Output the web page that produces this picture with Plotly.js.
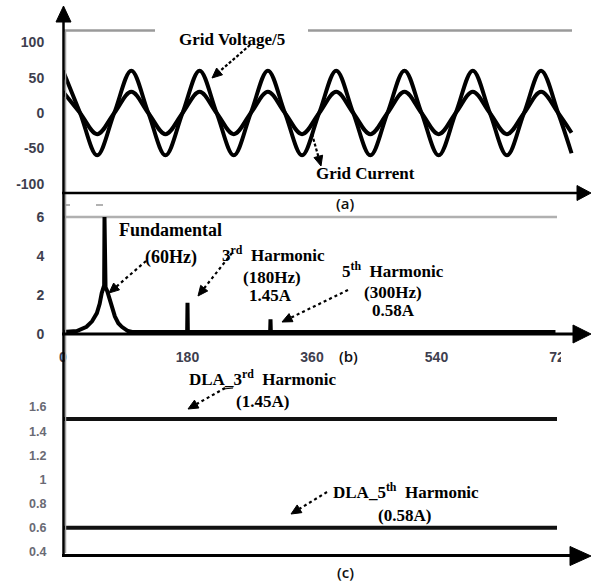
<!DOCTYPE html>
<html>
<head>
<meta charset="utf-8">
<script src="https://cdn.plot.ly/plotly-3.0.1.min.js"></script>
<style>html,body{margin:0;padding:0;background:#fff;}#chart{width:591px;height:585px;}</style>
</head>
<body>
<div id="chart"></div>
<script>
// ---- Panel (a): grid voltage/5 and grid current (time in ms, points at quarter periods) ----
const gridTime = [0, 4.17, 8.33, 12.5, 16.67, 20.83, 25, 29.17, 33.33, 37.5, 41.67, 45.83, 50, 54.17, 58.33, 62.5,
  66.67, 70.83, 75, 79.17, 83.33, 87.5, 91.67, 95.83, 100, 104.17, 108.33, 112.5, 116.67, 120.83, 124.1];
const gridVoltage = [60, 0, -60, 0, 60, 0, -60, 0, 60, 0, -60, 0, 60, 0, -60, 0,
  60, 0, -60, 0, 60, 0, -60, 0, 60, 0, -60, 0, 60, 0, -57];
const gridCurrent = [30, 0, -30, 0, 30, 0, -30, 0, 30, 0, -30, 0, 30, 0, -30, 0,
  30, 0, -30, 0, 30, 0, -30, 0, 30, 0, -30, 0, 30, 0, -28];
const yTicksA = [-100, -50, 0, 50, 100];
const yTickTextA = ['-100', '-50', '0', '50', '100'];

// ---- Panel (b): current spectrum (Hz, A) ----
const specFreq = [0, 20, 34, 42, 49, 53, 56, 58.5, 59.5, 60, 60.5, 61.5, 64, 68, 72, 75, 80, 85, 94, 100,
  179.5, 180, 180.5, 299.5, 300, 300.5, 712];
const specAmp = [0.1, 0.15, 0.37, 0.65, 1.07, 1.55, 2.1, 2.4, 2.5, 6.0, 2.5, 2.4, 2.2, 1.7, 1.2, 0.9, 0.55, 0.37, 0.15, 0.1,
  0.1, 1.6, 0.1, 0.1, 0.75, 0.1, 0.1];
const xTicksB = [0, 180, 360, 540, 720];
const xTickTextB = ['0', '180', '360', '540', '720'];
const yTicksB = [0, 2, 4, 6];
const yTickTextB = ['0', '2', '4', '6'];

// ---- Panel (c): DLA harmonic estimates ----
const dlaTime = [0, 10];
const dla3rd = [1.5, 1.5];
const dla5th = [0.6, 0.6];
const yTicksC = [0.4, 0.6, 0.8, 1, 1.2, 1.4, 1.6];
const yTickTextC = ['0.4', '0.6', '0.8', '1', '1.2', '1.4', '1.6'];

// ---- layout helpers (pixel -> paper) ----
const W = 591, H = 585;
const PX = x => x / W;
const PY = y => 1 - y / H;
const msPerPx = 16.667 / 68.3;
const hzPerPx = 180 / 124.5;
const bold = arr => arr.map(s => '<b>' + s + '</b>');

const tickA = {family: 'Liberation Sans, Arial, sans-serif', size: 14, color: '#3e3e4e'};
const tickC = {family: 'Liberation Sans, Arial, sans-serif', size: 12.5, color: '#6a6a74'};
const serif = s => ({family: 'Liberation Serif', size: s, color: '#000', weight: 700});

const traces = [
  {x: gridTime, y: gridVoltage, xaxis: 'x', yaxis: 'y', mode: 'lines',
   line: {shape: 'spline', smoothing: 1, color: '#000', width: 4}},
  {x: gridTime, y: gridCurrent, xaxis: 'x', yaxis: 'y', mode: 'lines',
   line: {shape: 'spline', smoothing: 1, color: '#000', width: 4}},
  {x: specFreq, y: specAmp, xaxis: 'x2', yaxis: 'y2', mode: 'lines',
   line: {color: '#000', width: 4}},
  {x: dlaTime, y: dla3rd, xaxis: 'x3', yaxis: 'y3', mode: 'lines', line: {color: '#111', width: 4}},
  {x: dlaTime, y: dla5th, xaxis: 'x3', yaxis: 'y3', mode: 'lines', line: {color: '#111', width: 4}}
];

const hiddenX = {showgrid: false, zeroline: false, showline: false, showticklabels: false, ticks: ''};
const baseY = {showgrid: false, zeroline: false, showline: false, ticks: 'outside', ticklen: 15,
  tickcolor: 'rgba(0,0,0,0)'};

function line(x0, y0, x1, y1, color, width, dash) {
  return {type: 'line', xref: 'paper', yref: 'paper', x0: PX(x0), y0: PY(y0), x1: PX(x1), y1: PY(y1),
    line: {color: color, width: width, dash: dash || 'solid'}, layer: 'above'};
}
function tri(pts) {
  const d = 'M ' + pts.map(p => PX(p[0]) + ',' + PY(p[1])).join(' L ') + ' Z';
  return {type: 'path', xref: 'paper', yref: 'paper', path: d, fillcolor: '#000', line: {color: '#000', width: 1}, layer: 'above'};
}
// pointer: shaft from tail to tip plus a filled triangular head at the tip
function pointer(tailX, tailY, tipX, tipY, dash) {
  const dx = tailX - tipX, dy = tailY - tipY, L = Math.hypot(dx, dy);
  const ux = dx / L, uy = dy / L, len = 10, hw = 4.5;
  const bx = tipX + ux * len, by = tipY + uy * len;
  return [
    line(tailX, tailY, bx, by, '#000', 2.2, dash),
    tri([[tipX, tipY], [bx - uy * hw, by + ux * hw], [bx + uy * hw, by - ux * hw]])
  ];
}

const shapes = [
  // hide the clipped part of the "720" label
  {type: 'rect', xref: 'paper', yref: 'paper', x0: PX(561), x1: 1, y0: PY(370), y1: PY(346),
   fillcolor: '#fff', line: {width: 0}, layer: 'above'},
  // gray frame fragments
  line(63, 30.5, 155, 30.5, '#9a9a9a', 2.5),
  line(308, 30.5, 572, 30.5, '#9a9a9a', 2.5),
  {type: 'line', xref: 'paper', yref: 'y2', x0: PX(63), x1: PX(557), y0: 6, y1: 6,
   line: {color: '#b0b0b0', width: 2.5}, layer: 'below'},
  line(65.5, 30, 65.5, 553, '#a0a0a0', 1.5),
  line(65, 205, 70, 205, '#999', 1.5),
  line(96, 205, 103, 205, '#999', 1.5),
  // axes
  line(63.5, 18, 63.5, 556, '#000', 2.5),
  tri([[56, 22], [63.5, 6], [71, 22]]),
  line(62, 193, 580, 193, '#000', 2.5),
  tri([[577, 185.5], [591, 193], [577, 200.5]]),
  line(62, 334, 576, 334, '#000', 3),
  tri([[573, 325], [591, 334], [573, 343]]),
  line(62, 555.5, 574, 555.5, '#000', 3),
  tri([[570, 546.5], [591, 556], [570, 565.5]]),
  line(233, 388, 223, 389, '#000', 1.2)
].concat(
  pointer(250, 45, 212, 78, '3px,2px'),
  pointer(312, 134, 321, 166, '3px,2px'),
  pointer(146, 261, 109, 293, 'dot'),
  pointer(232, 253, 198, 296, 'dot'),
  pointer(348, 290, 282, 322, 'dot'),
  pointer(225, 388, 188, 409, 'dot'),
  pointer(327, 492, 291, 514, 'dot')
);

function label(text, x, y, font) {
  return {xref: 'paper', yref: 'paper', x: PX(x), y: PY(y), text: text, showarrow: false,
    xanchor: 'center', yanchor: 'middle', font: font};
}
const panelFont = {family: 'Open Sans', size: 15, color: '#111', weight: 600};

const annotations = [
  label('Grid Voltage/5', 232, 40, serif(17)),
  label('Grid Current', 365, 173, serif(17)),
  label('(a)', 345, 203, panelFont),
  label('Fundamental', 170, 230, serif(18)),
  label('(60Hz)', 171, 257, serif(18)),
  label('3<sup>rd</sup>  Harmonic', 273, 254, serif(17)),
  label('(180Hz)', 272, 277, serif(17)),
  label('1.45A', 270, 295, serif(17)),
  label('5<sup>th</sup>  Harmonic', 393, 270, serif(17)),
  label('(300Hz)', 393, 292, serif(17)),
  label('0.58A', 393, 310, serif(17)),
  label('(b)', 348, 356, panelFont),
  label('DLA_3<sup>rd</sup>  Harmonic', 262, 378, serif(17)),
  label('(1.45A)', 262, 401, serif(17)),
  label('DLA_5<sup>th</sup>  Harmonic', 406, 491, serif(17)),
  label('(0.58A)', 405, 515, serif(17)),
  label('(c)', 345, 572, panelFont)
];

const layout = {
  width: W, height: H, margin: {l: 0, r: 0, t: 0, b: 0},
  paper_bgcolor: '#fff', plot_bgcolor: 'rgba(0,0,0,0)', showlegend: false,
  xaxis: Object.assign({}, hiddenX, {domain: [PX(63), PX(590)], range: [0, 527 * msPerPx], anchor: 'y'}),
  yaxis: Object.assign({}, baseY, {domain: [PY(193), PY(8)], range: [-113.3, 148.7], anchor: 'x',
    tickvals: yTicksA, ticktext: bold(yTickTextA), tickfont: tickA}),
  xaxis2: {domain: [PX(63), PX(590)], range: [0, 527 * hzPerPx], anchor: 'y2', showgrid: false, zeroline: false,
    showline: false, ticks: 'outside', ticklen: 10, tickcolor: 'rgba(0,0,0,0)',
    tickvals: xTicksB, ticktext: bold(xTickTextB), tickfont: tickA},
  yaxis2: Object.assign({}, baseY, {domain: [PY(334), PY(198)], range: [0, 6.974], anchor: 'x2',
    tickvals: yTicksB, ticktext: bold(yTickTextB), tickfont: tickA}),
  xaxis3: Object.assign({}, hiddenX, {domain: [PX(63), PX(590)], range: [0, 527 / 494 * 10], anchor: 'y3'}),
  yaxis3: Object.assign({}, baseY, {domain: [PY(556), PY(393)], range: [0.367, 1.716], anchor: 'x3',
    tickvals: yTicksC, ticktext: bold(yTickTextC), tickfont: tickC, ticklen: 13}),
  shapes: shapes,
  annotations: annotations
};

Plotly.newPlot('chart', traces, layout, {staticPlot: true, displayModeBar: false});
</script>
</body>
</html>
